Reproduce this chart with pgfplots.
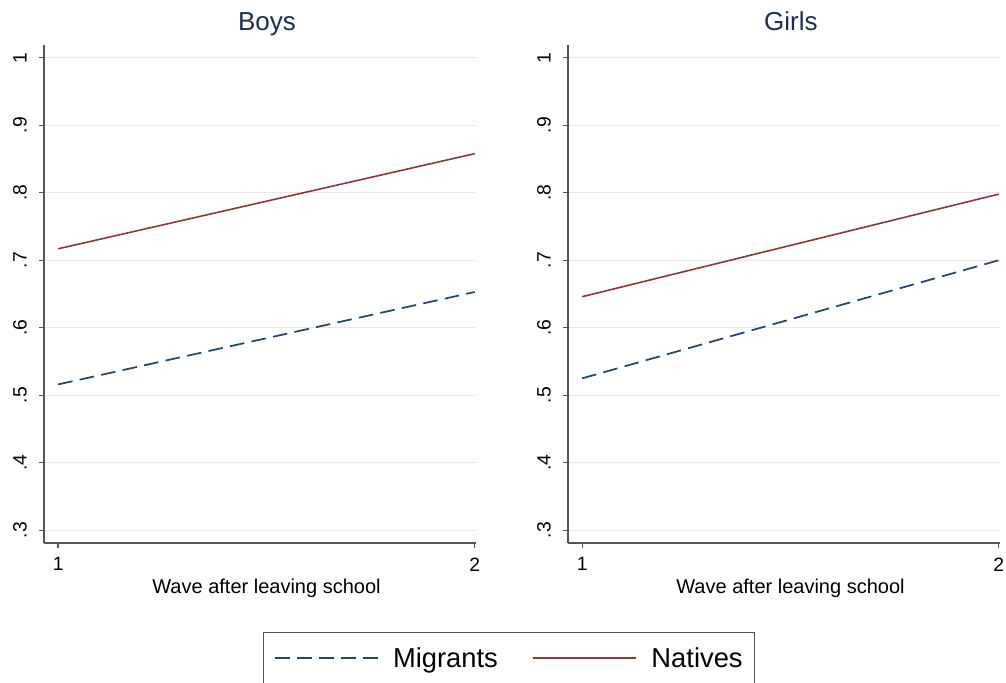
\documentclass[border=0pt]{standalone}
\usepackage{fontspec}
\setmainfont{Liberation Sans}
\usepackage{pgfplots}
\pgfplotsset{compat=1.18}
\definecolor{stnavy}{RGB}{36,70,110}
\definecolor{stmaroon}{RGB}{144,53,59}
\definecolor{titlec}{RGB}{30,45,80}
\definecolor{gridc}{RGB}{232,232,232}
\definecolor{axc}{RGB}{85,85,85}
\pgfplotsset{stpanel/.style={
  scale only axis, width=324pt, height=373.5pt,
  xmin=0.966, xmax=2.003, ymin=0.281, ymax=1.019,
  axis x line*=bottom, axis y line*=left,
  axis line style={axc, line width=1pt},
  xtick={1,2}, xticklabels={1,2},
  ytick={0.3,0.4,0.5,0.6,0.7,0.8,0.9,1},
  yticklabels={.3,.4,.5,.6,.7,.8,.9,1},
  tick align=outside, major tick length=3.75pt,
  tick style={axc, line width=1pt},
  ymajorgrids, grid style={gridc, line width=1pt},
  /pgf/number format/assume math mode=true,
  xticklabel style={font=\fontsize{14.5}{16}\selectfont, inner sep=0pt, anchor=north},
  xticklabel shift=7pt,
  yticklabel style={font=\fontsize{14.5}{16}\selectfont, rotate=90, anchor=south, inner sep=0pt},
  yticklabel shift=9pt,
  title style={font=\fontsize{19.5}{22}\selectfont, text=titlec, at={(axis description cs:0.516,1)}, anchor=base, yshift=4.5pt},
  xlabel={Wave after leaving school},
  xlabel style={font=\fontsize{15}{17}\selectfont, at={(axis description cs:0.515,0)}, anchor=base, yshift=-37.5pt},
  legend image code/.code={\path (0pt,0pt); \draw[#1] (1pt,0pt) -- (78pt,0pt);},
}}
\begin{document}
\begin{tikzpicture}
\useasboundingbox (0,0) rectangle (754.5pt,-511.5pt);
\begin{axis}[stpanel, at={(33pt,-407.25pt)}, anchor=south west, title={Boys}]
\addplot[stnavy, line width=1.3pt, dash pattern=on 11pt off 5.5pt] coordinates {(1,0.516) (2,0.653)};
\addplot[stmaroon, line width=1.2pt] coordinates {(1,0.717) (2,0.858)};
\end{axis}
\begin{axis}[stpanel, at={(426pt,-407.25pt)}, anchor=south west, title={Girls},
  legend columns=2,
  legend style={at={(axis description cs:-0.1366,-0.1787)}, anchor=north, draw=axc, line width=0.9pt,
    font=\fontsize{20.5}{23}\selectfont, inner xsep=7pt, inner ysep=9pt,
    /tikz/every odd column/.append style={column sep=9pt},
    /tikz/every even column/.append style={column sep=23pt}}]
\addplot[stnavy, line width=1.3pt, dash pattern=on 11pt off 5.5pt] coordinates {(1,0.525) (2,0.700)};
\addplot[stmaroon, line width=1.2pt] coordinates {(1,0.646) (2,0.798)};
\legend{Migrants, Natives\hspace{4pt}}
\end{axis}
\end{tikzpicture}
\end{document}
